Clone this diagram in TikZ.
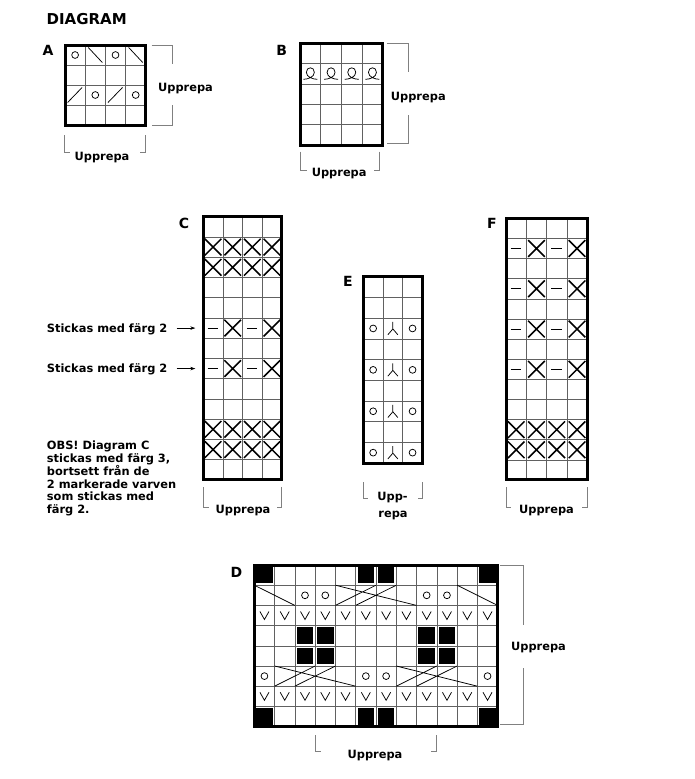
\documentclass[tikz,border=0pt]{standalone}
\usepackage{fontspec}
\setmainfont{DejaVu Sans}
\usetikzlibrary{arrows.meta}
\tikzset{
  gridl/.style={draw=black!62,line width=0.6pt},
  frame/.style={draw=black,line width=3pt},
  brk/.style={draw=black!50,line width=0.7pt},
  sym/.style={draw=black,line width=0.75pt},
  xs/.style={draw=black,line width=1.5pt},
  ttl/.style={font=\fontsize{15}{18}\selectfont\bfseries,inner sep=0pt},
  lbl/.style={font=\fontsize{14}{16}\selectfont\bfseries,inner sep=0pt},
  rep/.style={font=\fontsize{11.4}{12.9}\selectfont\bfseries,inner sep=0pt},
  ko/.pic={\draw[sym] (0,0) circle[radius=3.4pt];},
  kx/.pic={\draw[xs] (-8.3pt,-8.3pt) -- (8.3pt,8.3pt) (-8.3pt,8.3pt) -- (8.3pt,-8.3pt);},
  kdash/.pic={\draw[sym] (-5.5pt,0) -- (5pt,0);},
  kv/.pic={\draw[sym] (-4.5pt,4pt) -- (0,-4pt) -- (4.5pt,4pt);},
  klam/.pic={\draw[sym] (0,6.5pt) -- (0,-0.5pt) (-5pt,-6.3pt) -- (0,-0.5pt) -- (5pt,-6.3pt);},
  kfd/.pic={\draw[sym] (-7pt,7.5pt) -- (7pt,-7.5pt);},
  krd/.pic={\draw[sym] (-7.5pt,-7.5pt) -- (7pt,7.5pt);},
  kloop/.pic={\draw[sym] (-7pt,-5.5pt) .. controls (-3pt,-5.5pt) and (4pt,-3.5pt) .. (4pt,1.5pt) .. controls (4pt,7.5pt) and (-4pt,7.5pt) .. (-4pt,1.5pt) .. controls (-4pt,-3.5pt) and (3pt,-5.5pt) .. (7pt,-5.5pt);}
}
\newcommand\blk[2]{\fill ([xshift=1.8pt,yshift=-1.8pt]{#1-1},{#2-1}) rectangle ([xshift=-1.8pt,yshift=1.8pt]#1,#2);}
\begin{document}
\begin{tikzpicture}[x=1pt,y=-1pt]
\useasboundingbox[fill=white] (0,0) rectangle (695,779);

\node[ttl,anchor=base west] (title) at (46.5,24) {DIAGRAM};

% ---------- A ----------
\node[lbl,anchor=base] (labA) at (48,55) {A};
\begin{scope}[shift={(65,45)},x=20.2pt,y=-20pt]
  \foreach \i in {1,2,3} \draw[gridl] (\i,0) -- (\i,4);
  \foreach \j in {1,2,3} \draw[gridl] (0,\j) -- (4,\j);
  \pic at (0.5,0.5) {ko}; \pic at (1.5,0.5) {kfd};
  \pic at (2.5,0.5) {ko}; \pic at (3.5,0.5) {kfd};
  \pic at (0.5,2.5) {krd}; \pic at (1.5,2.5) {ko};
  \pic at (2.5,2.5) {krd}; \pic at (3.5,2.5) {ko};
  \draw[frame] (0,0) rectangle (4,4);
\end{scope}
\node[rep,anchor=base] (repAr) at (185.5,91.7) {Upprepa};
\draw[brk] (151.7,45) -- (172.7,45) -- (172.7,64);
\draw[brk] (172.7,105) -- (172.7,125) -- (151.7,125);
\node[rep,anchor=base] (repAb) at (102,160) {Upprepa};
\draw[brk] (64.5,135) -- (64.5,152) -- (69.5,152);
\draw[brk] (145,135) -- (145,152) -- (140,152);

% ---------- B ----------
\node[lbl,anchor=base] (labB) at (281.7,55) {B};
\begin{scope}[shift={(300,43.3)},x=20.7pt,y=-20.34pt]
  \foreach \i in {1,2,3} \draw[gridl] (\i,0) -- (\i,5);
  \foreach \j in {1,2,3,4} \draw[gridl] (0,\j) -- (4,\j);
  \foreach \c in {0.5,1.5,2.5,3.5} \pic at (\c,1.5) {kloop};
  \draw[frame] (0,0) rectangle (4,5);
\end{scope}
\node[rep,anchor=base] (repBr) at (418.3,100) {Upprepa};
\draw[brk] (386.7,43.3) -- (408.3,43.3) -- (408.3,72);
\draw[brk] (408.3,115) -- (408.3,143.3) -- (386.7,143.3);
\node[rep,anchor=base] (repBb) at (339.2,176.7) {Upprepa};
\draw[brk] (300.7,151.7) -- (300.7,170) -- (306.7,170);
\draw[brk] (379.3,151.7) -- (379.3,170) -- (374,170);

% ---------- C ----------
\node[lbl,anchor=base] (labC) at (184,228) {C};
\begin{scope}[shift={(203.3,216.7)},x=19.6pt,y=-20.25pt]
  \foreach \i in {1,2,3} \draw[gridl] (\i,0) -- (\i,13);
  \foreach \j in {1,...,12} \draw[gridl] (0,\j) -- (4,\j);
  \foreach \r in {1.5,2.5,10.5,11.5}
    \foreach \c in {0.5,1.5,2.5,3.5} \pic at (\c,\r) {kx};
  \foreach \r in {5.5,7.5} {
    \pic at (0.5,\r) {kdash}; \pic at (1.5,\r) {kx};
    \pic at (2.5,\r) {kdash}; \pic at (3.5,\r) {kx};
  }
  \draw[frame] (0,0) rectangle (4,13);
  \coordinate (c6) at (0,5.5);
  \coordinate (c8) at (0,7.5);
\end{scope}
\node[rep,anchor=base west] (st1) at (46.7,332) {Stickas med färg 2};
\node[rep,anchor=base west] (st2) at (46.7,372) {Stickas med färg 2};
\draw[line width=0.6pt,-{Stealth[length=5pt,width=3.5pt]}] ([xshift=9pt]st1.east |- c6) -- ([xshift=-8pt]c6);
\draw[line width=0.6pt,-{Stealth[length=5pt,width=3.5pt]}] ([xshift=9pt]st2.east |- c8) -- ([xshift=-8pt]c8);
\node[rep,anchor=north west,align=left] (obs) at (46.7,440.5) {OBS! Diagram C\\stickas med färg 3,\\bortsett från de\\2 markerade varven\\som stickas med\\färg 2.};
\node[rep,anchor=base] (repC) at (243,513) {Upprepa};
\draw[brk] (203.3,487) -- (203.3,507) -- (208.5,507);
\draw[brk] (281.7,487) -- (281.7,507) -- (276.5,507);

% ---------- E ----------
\node[lbl,anchor=base] (labE) at (348,286.7) {E};
\begin{scope}[shift={(363.3,276.7)},x=19.7pt,y=-20.7pt]
  \foreach \i in {1,2} \draw[gridl] (\i,0) -- (\i,9);
  \foreach \j in {1,...,8} \draw[gridl] (0,\j) -- (3,\j);
  \foreach \r in {2.5,4.5,6.5,8.5} {
    \pic at (0.5,\r) {ko}; \pic at (1.5,\r) {klam}; \pic at (2.5,\r) {ko};
  }
  \draw[frame] (0,0) rectangle (3,9);
\end{scope}
\node[rep,anchor=base] (repE1) at (392.5,500) {Upp-};
\node[rep,anchor=base] (repE2) at (393,517) {repa};
\draw[brk] (363.3,482) -- (363.3,498) -- (367.8,498);
\draw[brk] (422.7,482) -- (422.7,498) -- (418.2,498);

% ---------- F ----------
\node[lbl,anchor=base] (labF) at (492,228.3) {F};
\begin{scope}[shift={(506,218.3)},x=20.3pt,y=-20.13pt]
  \foreach \i in {1,2,3} \draw[gridl] (\i,0) -- (\i,13);
  \foreach \j in {1,...,12} \draw[gridl] (0,\j) -- (4,\j);
  \foreach \r in {1.5,3.5,5.5,7.5} {
    \pic at (0.5,\r) {kdash}; \pic at (1.5,\r) {kx};
    \pic at (2.5,\r) {kdash}; \pic at (3.5,\r) {kx};
  }
  \foreach \r in {10.5,11.5}
    \foreach \c in {0.5,1.5,2.5,3.5} \pic at (\c,\r) {kx};
  \draw[frame] (0,0) rectangle (4,13);
\end{scope}
\node[rep,anchor=base] (repF) at (546.5,513) {Upprepa};
\draw[brk] (506,487) -- (506,507) -- (511.2,507);
\draw[brk] (587.3,487) -- (587.3,507) -- (582.1,507);

% ---------- D ----------
\node[lbl,anchor=base] (labD) at (236.5,577) {D};
\begin{scope}[shift={(254.3,565)},x=20.28pt,y=-20.2pt]
  \foreach \i in {1,...,11} \draw[gridl] (\i,0) -- (\i,8);
  \foreach \j in {1,...,7} \draw[gridl] (0,\j) -- (12,\j);
  % black cells
  \foreach \c in {1,6,7,12} { \blk{\c}{1} \blk{\c}{8} }
  \foreach \c in {3,4,9,10} { \blk{\c}{4} \blk{\c}{5} }
  % V rows
  \foreach \c in {0.5,1.5,...,11.5} { \pic at (\c,2.5) {kv}; \pic at (\c,6.5) {kv}; }
  % circles
  \foreach \c in {2.5,3.5,8.5,9.5} \pic at (\c,1.5) {ko};
  \foreach \c in {0.5,5.5,6.5,11.5} \pic at (\c,5.5) {ko};
  % cables row 2
  \draw[sym] (0,1) -- (2,2);
  \draw[sym] (10,1) -- (12,2);
  \draw[sym] (4,1) -- (8,2) (4,2) -- (6,1) (5,2) -- (7,1);
  % cables row 6
  \draw[sym] (1,5) -- (5,6) (1,6) -- (3,5) (2,6) -- (4,5);
  \draw[sym] (7,5) -- (11,6) (7,6) -- (9,5) (8,6) -- (10,5);
  \draw[frame] (0,0) rectangle (12,8);
\end{scope}
\node[rep,anchor=base] (repDr) at (538.5,650) {Upprepa};
\draw[brk] (500,565) -- (523.5,565) -- (523.5,625);
\draw[brk] (523.5,668) -- (523.5,724) -- (500,724);
\node[rep,anchor=base] (repDb) at (375,758) {Upprepa};
\draw[brk] (315.1,735) -- (315.1,751) -- (320.5,751);
\draw[brk] (436.8,735) -- (436.8,751) -- (431.4,751);
\end{tikzpicture}
\end{document}
